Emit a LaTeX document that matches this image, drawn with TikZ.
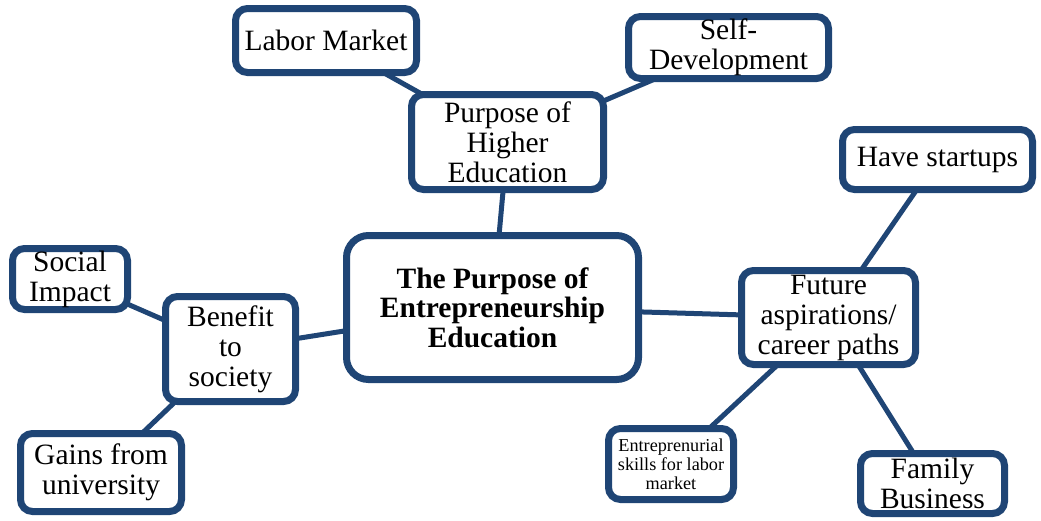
\documentclass[tikz,border=0pt]{standalone}
\usepackage{fontspec}
\setmainfont{Liberation Serif}
\usetikzlibrary{backgrounds,shadows}
\definecolor{boxblue}{RGB}{31,69,117}
\tikzset{
  box/.style={draw=boxblue, line width=7pt, fill=white, rounded corners=12pt,
    align=center, inner sep=0pt, font=\fontsize{29.5}{30}\selectfont,
    drop shadow={shadow xshift=2pt, shadow yshift=-3pt, opacity=0.25, fill=black}},
  link/.style={draw=boxblue, line width=5pt}
}
\begin{document}
\begin{tikzpicture}[x=1pt,y=-1pt]
\useasboundingbox (0,0) rectangle (1041,520);
\node[box, minimum width=181pt, minimum height=64pt] (labor) at (326,40.5) {Labor Market};
\node[box, minimum width=192pt, minimum height=95pt] (purpose) at (507.5,142) {Purpose of\\Higher\\Education};
\node[box, minimum width=200pt, minimum height=62pt] (self) at (728.5,47.5) {Self-\\Development};
\node[box, minimum width=190pt, minimum height=60pt] (startups) at (937.5,159.5) {Have startups};
\node[box, minimum width=292pt, minimum height=144pt, rounded corners=22pt,
  font=\fontsize{29.5}{29.5}\selectfont\bfseries] (center) at (492.5,307.5) {The Purpose of\\Entrepreneurship\\Education};
\node[box, minimum width=115pt, minimum height=61pt] (social) at (70,279) {Social\\Impact};
\node[box, minimum width=130pt, minimum height=105pt] (benefit) at (230.5,349) {Benefit\\to\\society};
\node[box, minimum width=161pt, minimum height=78pt] (gains) at (101,472.5) {Gains from\\university};
\node[box, minimum width=174pt, minimum height=94pt] (future) at (828.5,317.5) {Future\\aspirations/\\career paths};
\node[box, minimum width=144pt, minimum height=60pt] (family) at (932.5,483.5) {Family\\Business};
\node[box, minimum width=125pt, minimum height=71pt, font=\fontsize{18.2}{19}\selectfont] (entre) at (671,464) {Entreprenurial\\skills for labor\\market};
\begin{pgfonlayer}{background}
\draw[link] (labor.center) -- (purpose.center);
\draw[link] (self.center) -- (purpose.center);
\draw[link] (purpose.center) -- (center.center);
\draw[link] (center.center) -- (benefit.center);
\draw[link] (benefit.center) -- (social.center);
\draw[link] (benefit.center) -- (gains.center);
\draw[link] (center.center) -- (future.center);
\draw[link] (future.center) -- (startups.center);
\draw[link] (future.center) -- (family.center);
\draw[link] (future.center) -- (entre.center);
\end{pgfonlayer}
\end{tikzpicture}
\end{document}
